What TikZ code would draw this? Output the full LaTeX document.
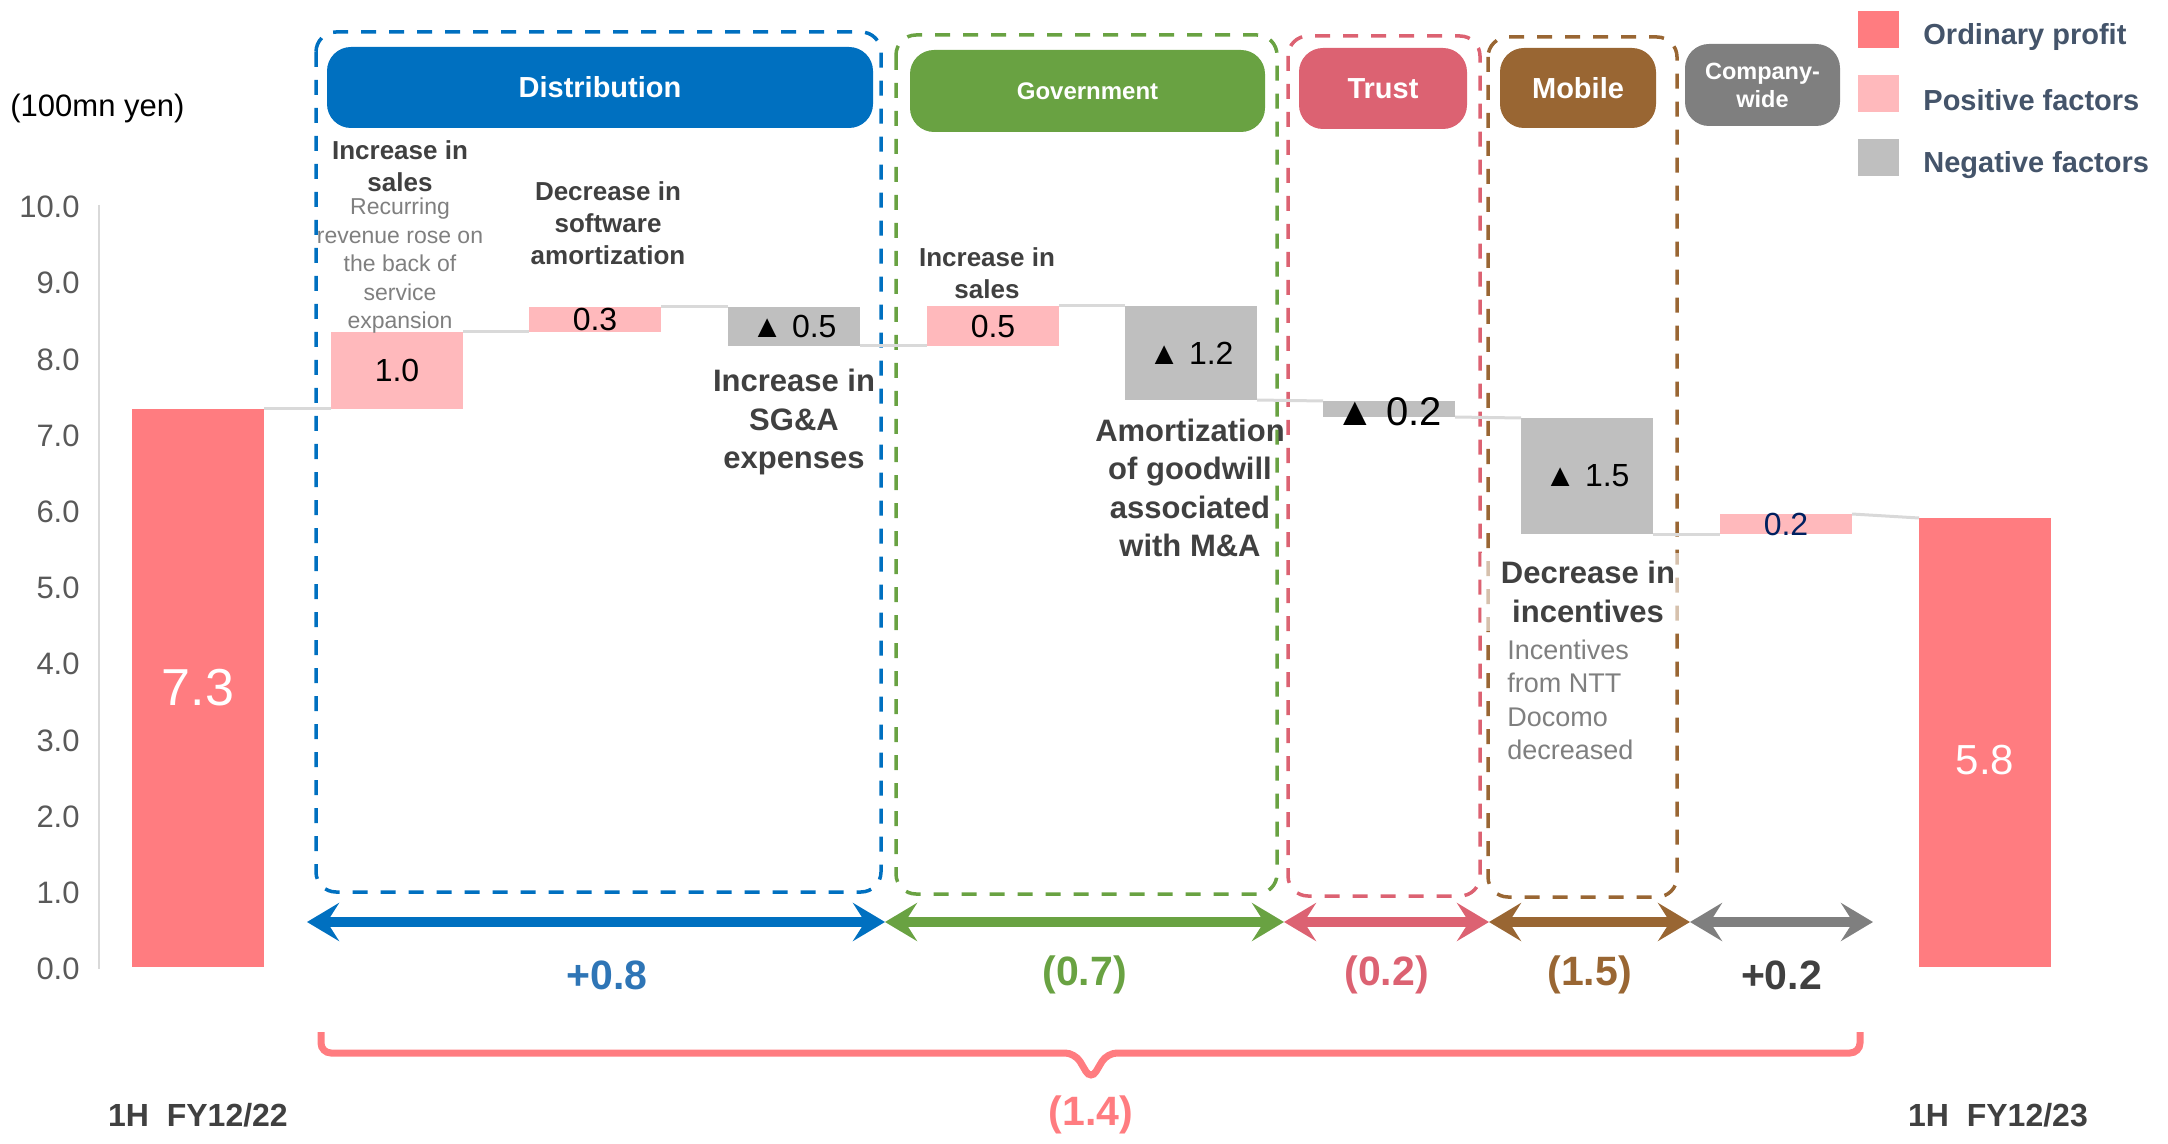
\documentclass[tikz,border=0pt]{standalone}
\usepackage{fontspec}
\setmainfont{Liberation Sans}
\usetikzlibrary{arrows.meta}
\definecolor{ordcol}{HTML}{FF7C80}
\definecolor{poscol}{HTML}{FFB9BC}
\definecolor{negcol}{HTML}{BFBFBF}
\definecolor{distcol}{HTML}{0070C0}
\definecolor{govcol}{HTML}{69A242}
\definecolor{trustcol}{HTML}{DC6272}
\definecolor{mobcol}{HTML}{996633}
\definecolor{comcol}{HTML}{7F7F7F}
\definecolor{notecol}{HTML}{404040}
\definecolor{legcol}{HTML}{44546A}
\definecolor{tickcol}{HTML}{595959}
\definecolor{linkcol}{HTML}{D9D9D9}
\definecolor{navycol}{HTML}{002060}
\definecolor{plusblue}{HTML}{2E75B6}

\begin{document}
\begin{tikzpicture}[x=0.5pt,y=-0.5pt,
        bar/.style={anchor=south west,inner sep=0,outer sep=0,minimum width=66pt},
        val/.style={inner sep=0,font=\fontsize{16}{19}\selectfont},
        big/.style={inner sep=0,text=white,font=\fontsize{26}{30}\selectfont},
        link/.style={draw=linkcol,line width=1.5pt},
        pill/.style={rounded corners=12pt,inner sep=0,text=white,align=center,font=\bfseries\fontsize{14.5}{17}\selectfont},
        grp/.style={rounded corners=10pt,line width=1.75pt,dash pattern=on 7.5pt off 6.5pt},
        span/.style={line width=5pt,<->,>={Stealth[length=16pt,width=19pt,inset=6pt]}},
        sumtxt/.style={inner sep=0,font=\bfseries\fontsize{20.5}{24}\selectfont},
        sum/.style={sumtxt,yshift=-26.5pt},
        note/.style={inner sep=0,text=notecol,align=center,font=\bfseries\fontsize{13}{16}\selectfont},
        bignote/.style={inner sep=0,text=notecol,align=center,font=\bfseries\fontsize{15.5}{19.25}\selectfont},
        sub/.style={inner sep=0,text=comcol,align=center,font=\fontsize{11.5}{14.25}\selectfont},
        key/.style={inner sep=0,minimum width=20.5pt,minimum height=18.5pt},
        keytext/.style={anchor=west,inner sep=0,text=legcol,font=\bfseries\fontsize{14.5}{17}\selectfont},
        tick/.style={anchor=east,inner sep=0,text=tickcol,font=\fontsize{15.5}{18}\selectfont},
        period/.style={inner sep=0,text=notecol,font=\bfseries\fontsize{16}{19}\selectfont}]
    \useasboundingbox (0,0) rectangle (2168,1144);

    \draw[grp, distcol] (316,32) rectangle (881,892);
    \draw[grp, govcol] (896,35) rectangle (1277,894);
    \draw[grp, trustcol] (1288,36) rectangle (1480,896);
    \draw[grp, mobcol] (1488,37) rectangle (1677,897);

    \node[pill, fill=distcol, minimum width=273pt, minimum height=40.5pt] (h1) at (600,87.5) {Distribution};
    \node[pill, fill=govcol, minimum width=177.5pt, minimum height=41pt, font=\bfseries\fontsize{12}{14}\selectfont] (h2) at (1087.5,91) {Government};
    \node[pill, fill=trustcol, minimum width=84pt, minimum height=40.5pt] (h3) at (1383,88.5) {Trust};
    \node[pill, fill=mobcol, minimum width=78pt, minimum height=40pt] (h4) at (1578,88) {Mobile};
    \node[pill, fill=comcol, minimum width=77.5pt, minimum height=41pt, font=\bfseries\fontsize{11.75}{14}\selectfont] (h5) at (1762.5,85) {Company-\\wide};

    \node[key, fill=ordcol] (k1) at (1878.5,29.5) {};
    \node[key, fill=poscol] (k2) at (1878.5,93.5) {};
    \node[key, fill=negcol] (k3) at (1878.5,157.5) {};
    \node[keytext] (t1) at (1923,37) {Ordinary profit};
    \node[keytext] (t2) at (1923,100) {Positive factors};
    \node[keytext] (t3) at (1923,165) {Negative factors};

    \node[anchor=west, inner sep=0, font=\fontsize{15.5}{18}\selectfont] (unit) at (10,108) {(100mn yen)};
    \draw[linkcol, line width=1pt] (99,205) -- (99,969);
    \foreach \v in {0,...,10}
        \node[tick] (y\v) at (80,{969-76.2*\v}) {\v.0};

    \node[bar, fill=ordcol, minimum height=279pt] (b0) at (132,967) {};
    \node[bar, fill=poscol, minimum height=38.5pt] (b1) at (331,409) {};
    \node[bar, fill=poscol, minimum height=12.5pt] (b2) at (529,332) {};
    \node[bar, fill=negcol, minimum height=19.5pt] (b3) at (728,346) {};
    \node[bar, fill=poscol, minimum height=20pt] (b4) at (927,346) {};
    \node[bar, fill=negcol, minimum height=47pt] (b5) at (1125,400) {};
    \node[bar, fill=negcol, minimum height=8pt] (b6) at (1323,417) {};
    \node[bar, fill=negcol, minimum height=58pt] (b7) at (1521,534) {};
    \node[bar, fill=poscol, minimum height=10pt] (b8) at (1720,534) {};
    \node[bar, fill=ordcol, minimum height=224.5pt] (b9) at (1919,967) {};

    \path[link]
        (b0.north east) edge (b1.south west)
        (b1.north east) edge (b2.south west)
        (b2.north east) edge (b3.north west)
        (b3.south east) edge (b4.south west)
        (b4.north east) edge (b5.north west)
        (b5.south east) edge (b6.north west)
        (b6.south east) edge (b7.north west)
        (b7.south east) edge (b8.south west)
        (b8.north east) edge (b9.north west);

    \node[big] (v0) at (b0) {7.3};
    \node[val] (v1) at (b1) {1.0};
    \node[val] (v2) at (b2) {0.3};
    \node[val] (v3) at (b3) {▲ 0.5};
    \node[val] (v4) at (b4) {0.5};
    \node[val] (v5) at (b5) {▲ 1.2};
    \node[val, font=\fontsize{20}{24}\selectfont, yshift=-1.5pt] (v6) at (b6) {▲ 0.2};
    \node[val] (v7) at (b7) {▲ 1.5};
    \node[val, text=navycol] (v8) at (b8) {0.2};
    \node[big, font=\fontsize{21}{25}\selectfont, yshift=-8.75pt] (v9) at (b9) {5.8};

    \node[note] (n1) at (400,166) {Increase in\\sales};
    \node[sub] (n1s) at (400,266) {Recurring\\revenue rose on\\the back of\\service\\expansion};
    \node[note] (n2) at (608,223) {Decrease in\\software\\amortization};
    \node[bignote] (n3) at (794,422) {Increase in\\SG\&A\\expenses};
    \node[note] (n4) at (987,273) {Increase in\\sales};
    \node[bignote] (n5) at (1190,488) {Amortization\\of goodwill\\associated\\with M\&A};
    \node[bignote, fill=white, fill opacity=.6, text opacity=1, inner xsep=10pt, inner ysep=4pt] (n6) at (1588,592) {Decrease in\\incentives};
    \node[sub, anchor=west, align=left, font=\fontsize{13.5}{16.7}\selectfont] (n7) at (1507,700) {Incentives\\from NTT\\Docomo\\decreased};

    \coordinate (a0) at (307,922);
    \coordinate (a1) at (885,922);
    \coordinate (a2) at (1284,922);
    \coordinate (a3) at (1489,922);
    \coordinate (a4) at (1690,922);
    \coordinate (a5) at (1873,922);
    \path[span]
        (a0) edge[distcol] node[sum, text=plusblue, xshift=5.5pt] (s1) {+0.8} (a1)
        (a1) edge[govcol] node[sum] (s2) {(0.7)} (a2)
        (a2) edge[trustcol] node[sum] (s3) {(0.2)} (a3)
        (a3) edge[mobcol] node[sum] (s4) {(1.5)} (a4)
        (a4) edge[comcol] node[sum, text=notecol] (s5) {+0.2} (a5);

    \draw[ordcol, line width=3.5pt, rounded corners=5pt] (321,1032) |- (1075,1053) -- (1091,1080) -- (1107,1053) -| (1860,1032);
    \node[sumtxt, text=ordcol] (tot) at (1091,1115) {(1.4)};

    \node[period] (p0) at (198,1115) {1H~~FY12/22};
    \node[period] (p1) at (1998,1115) {1H~~FY12/23};
\end{tikzpicture}
\end{document}
